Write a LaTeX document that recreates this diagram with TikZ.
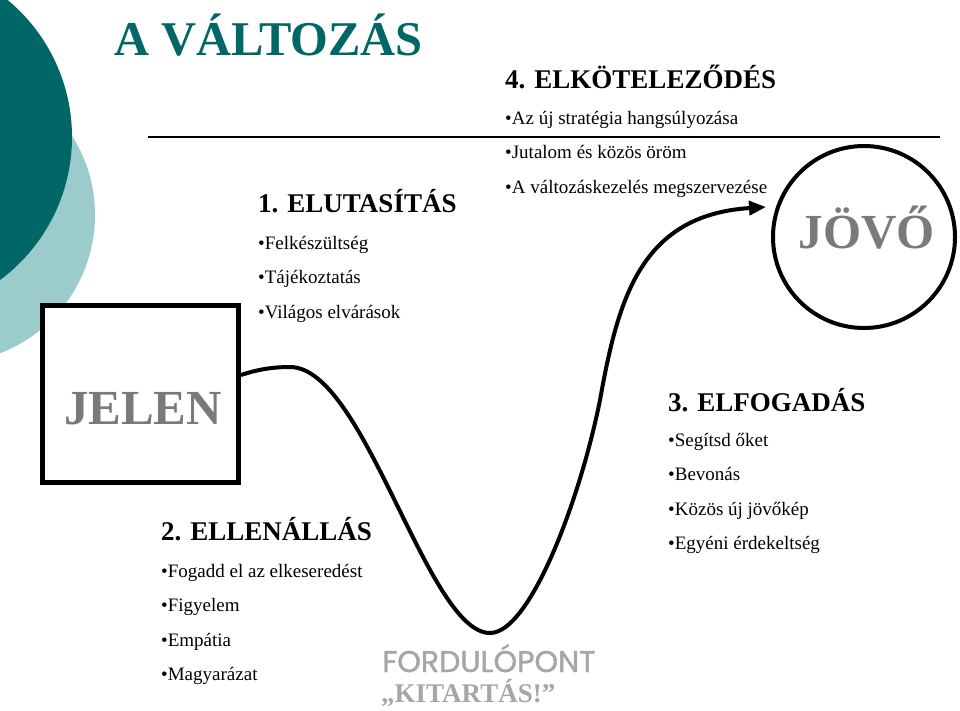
\documentclass[tikz,border=0pt]{standalone}
\usepackage{fontspec}
\setmainfont{Liberation Serif}
\newfontfamily\poppfont[FakeBold=1.2]{Poppins}
\usetikzlibrary{arrows.meta,calc}
\definecolor{tealdark}{HTML}{006666}
\definecolor{teallight}{HTML}{9CCBCC}
\definecolor{bigtxt}{HTML}{7A7A7A}
\definecolor{softgray}{HTML}{A6A6A6}
\tikzset{
  head/.style={anchor=base west, inner sep=0pt, font=\fontsize{27}{32}\selectfont\bfseries},
  bul/.style={anchor=base west, inner sep=0pt, font=\fontsize{19}{22}\selectfont},
  bigword/.style={anchor=base, inner sep=0pt, text=bigtxt, font=\fontsize{49}{56}\selectfont\bfseries},
  curve/.style={line width=4pt, -{Triangle[length=17pt,width=14pt]}},
}
\begin{document}
\begin{tikzpicture}[x=1pt,y=-1pt]
\useasboundingbox (0,0) rectangle (960,710);
\clip (0,0) rectangle (960,710);
% decorative circles
\fill[teallight] (-53,215) circle[radius=148];
\fill[tealdark] (-106,137) circle[radius=178];
% title
\node[anchor=base west, inner sep=0pt, text=tealdark, font=\fontsize{48.5}{56}\selectfont\bfseries] (title) at (114,55) {A VÁLTOZÁS};
\draw[line width=2pt] (148,137) -- (940,137);
% JELEN box
\node[draw, fill=white, line width=5pt, minimum width=196pt, minimum height=177pt, inner sep=0pt] (jelen) at (140.5,394) {};
\node[bigword] (jelentxt) at (143,424) {JELEN};
% JOVO circle
\node[draw, circle, line width=4pt, minimum size=182pt, inner sep=0pt] (jovo) at (864,237) {};
\node[bigword] (jovotxt) at (867,248) {JÖVŐ};
% group 1
\node[head] (h1) at (258,212) {1. ELUTASÍTÁS};
\node[bul] (b1a) at (258,249) {•Felkészültség};
\node[bul] (b1b) at (258,283.5) {•Tájékoztatás};
\node[bul] (b1c) at (258,318) {•Világos elvárások};
% group 2
\node[head] (h2) at (161,540) {2. ELLENÁLLÁS};
\node[bul] (b2a) at (161,577) {•Fogadd el az elkeseredést};
\node[bul] (b2b) at (161,611.5) {•Figyelem};
\node[bul] (b2c) at (161,646) {•Empátia};
\node[bul] (b2d) at (161,680.5) {•Magyarázat};
% group 3
\node[head] (h3) at (668,411) {3. ELFOGADÁS};
\node[bul] (b3a) at (668,446) {•Segítsd őket};
\node[bul] (b3b) at (668,480.5) {•Bevonás};
\node[bul] (b3c) at (668,515) {•Közös új jövőkép};
\node[bul] (b3d) at (668,549.5) {•Egyéni érdekeltség};
% group 4
\node[head] (h4) at (505,88) {4. ELKÖTELEZŐDÉS};
\node[bul] (b4a) at (505,124) {•Az új stratégia hangsúlyozása};
\node[bul] (b4b) at (505,158.5) {•Jutalom és közös öröm};
\node[bul] (b4c) at (505,193) {•A változáskezelés megszervezése};
% turning point
\node[anchor=base west, inner sep=0pt, text=softgray, font=\fontsize{30}{36}\selectfont\poppfont] (turn) at (382,672) {FORDULÓPONT};
\node[anchor=base west, inner sep=0pt, text=softgray, font=\fontsize{27}{32}\selectfont\bfseries] (hold) at (381,702) {„KITARTÁS!”};
% the curve
\coordinate (start) at ($(jelen.east)+(0,-19)$);
\coordinate (tip) at (766,207);
\draw[curve] (start) .. controls (256,370) and (271,367) .. (290,367)
  .. controls (365,367) and (427,633) .. (490,633)
  .. controls (530,633) and (580,500) .. (600,400)
  .. controls (618,300) and (640,215) .. (tip);
\end{tikzpicture}
\end{document}
